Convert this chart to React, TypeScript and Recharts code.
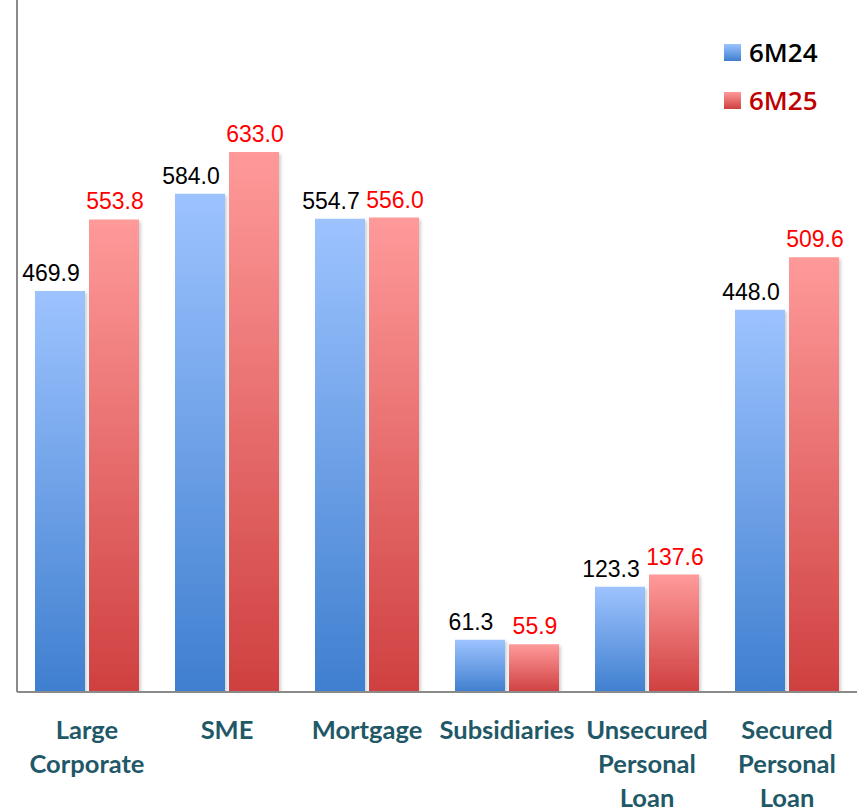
import { Bar, BarChart, LabelList, XAxis, YAxis } from "recharts";

const categories = [
  "Large Corporate",
  "SME",
  "Mortgage",
  "Subsidiaries",
  "Unsecured Personal Loan",
  "Secured Personal Loan"
];
const tickLines = [
  ["Large", "Corporate"],
  ["SME"],
  ["Mortgage"],
  ["Subsidiaries"],
  ["Unsecured", "Personal", "Loan"],
  ["Secured", "Personal", "Loan"]
];
const values6M24 = [469.9, 584.0, 554.7, 61.3, 123.3, 448.0];
const values6M25 = [553.8, 633.0, 556.0, 55.9, 137.6, 509.6];

const data = categories.map((name, i) => ({
  name,
  a: values6M24[i],
  b: values6M25[i]
}));

function CategoryTick(props: any) {
  const { x, y, payload } = props;
  const lines = tickLines[payload.index] ?? [payload.value];
  return (
    <g>
      {lines.map((l: string, i: number) => (
        <text
          key={i}
          x={x}
          y={y + 39 + i * 34}
          textAnchor="middle"
          fill="#1f5867"
          fontFamily="Lato, sans-serif"
          fontWeight={700}
          fontSize={25.5}
        >
          {l}
        </text>
      ))}
    </g>
  );
}

function LegendBox() {
  const row = (label: string, grad: string, color: string) => (
    <div style={{ display: "flex", alignItems: "center", height: 48 }}>
      <span style={{ width: 17, height: 17, marginRight: 8, background: grad }} />
      <span style={{ color }}>{label}</span>
    </div>
  );
  return (
    <div
      style={{
        position: "absolute",
        left: 724,
        top: 28,
        fontFamily: "'Open Sans', sans-serif",
        fontSize: 26,
        fontWeight: 600
      }}
    >
      {row("6M24", "linear-gradient(#9dc3ff, #3f7fcf)", "#000")}
      {row("6M25", "linear-gradient(#ff9a9a, #cf4040)", "#c00000")}
    </div>
  );
}

// value above the bar, nudged sideways like the original
const valueLabel = (color: string, dx: number) => (props: any) => {
  const { x, y, width, value } = props;
  return (
    <text
      x={x + width / 2 + dx}
      y={y - 10}
      textAnchor="middle"
      fill={color}
      fontFamily="'Liberation Sans', Arial, sans-serif"
      fontSize={23}
    >
      {Number(value).toFixed(1)}
    </text>
  );
};

export default function App() {
  return (
    <div style={{ position: "absolute", left: 0, top: 0, width: 859, height: 811, background: "#fff" }}>
      <BarChart
        width={859}
        height={811}
        data={data}
        margin={{ top: 0, right: 2, left: 0, bottom: 0 }}
        barCategoryGap={19}
        barGap={4}
      >
        <defs>
          <linearGradient id="gBlue" x1="0" y1="0" x2="0" y2="1">
            <stop offset="0%" stopColor="#9dc3ff" />
            <stop offset="100%" stopColor="#3f7fcf" />
          </linearGradient>
          <linearGradient id="gRed" x1="0" y1="0" x2="0" y2="1">
            <stop offset="0%" stopColor="#ff9a9a" />
            <stop offset="100%" stopColor="#cf4040" />
          </linearGradient>
          <filter id="shadow" x="-10%" y="-5%" width="130%" height="115%">
            <feDropShadow dx="2" dy="2" stdDeviation="1.5" floodColor="#000" floodOpacity="0.18" />
          </filter>
        </defs>
        <XAxis
          dataKey="name"
          interval={0}
          tickLine={false}
          axisLine={{ stroke: "#8a8a8a", strokeWidth: 2 }}
          tick={<CategoryTick />}
          height={119}
        />
        <YAxis
          width={17}
          domain={[0, 811]}
          allowDataOverflow
          tick={false}
          tickLine={false}
          axisLine={{ stroke: "#8a8a8a", strokeWidth: 2 }}
        />
        <Bar dataKey="a" name="6M24" fill="url(#gBlue)" barSize={50} filter="url(#shadow)" isAnimationActive={false}>
          <LabelList dataKey="a" content={valueLabel("#000", -9)} />
        </Bar>
        <Bar dataKey="b" name="6M25" fill="url(#gRed)" barSize={50} filter="url(#shadow)" isAnimationActive={false}>
          <LabelList dataKey="b" content={valueLabel("#ff0000", 1)} />
        </Bar>
      </BarChart>
      <LegendBox />
    </div>
  );
}
